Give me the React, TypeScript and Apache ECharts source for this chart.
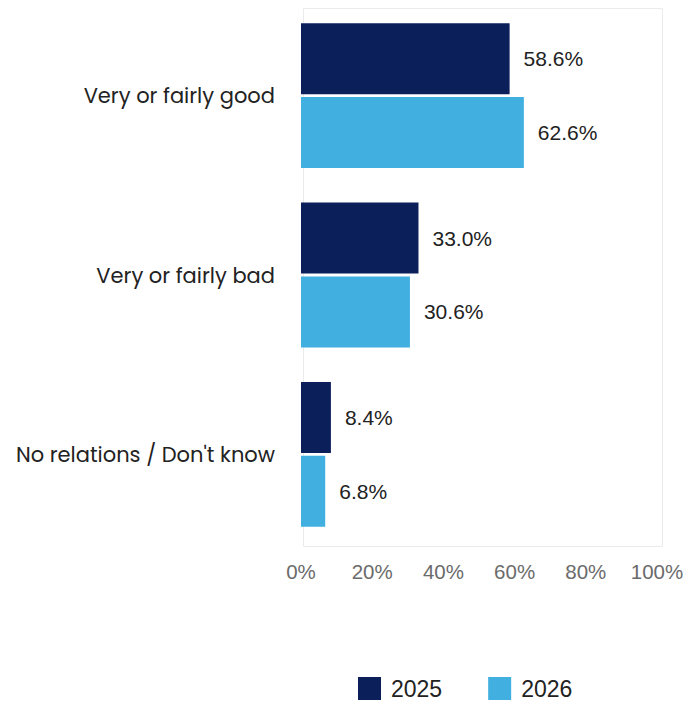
import React, { useEffect, useRef } from "react";
import * as echarts from "echarts";

const categories = ["Very or fairly good", "Very or fairly bad", "No relations / Don't know"];
const values2025 = [58.6, 33.0, 8.4];
const values2026 = [62.6, 30.6, 6.8];
const seriesNames = ["2025", "2026"];
const tickValues = [0, 20, 40, 60, 80, 100];

export default function App() {
  const ref = useRef<HTMLDivElement>(null);
  useEffect(() => {
    document.body.style.margin = "0";
    document.body.style.overflow = "hidden";
    const chart = echarts.init(ref.current!, undefined, { renderer: "svg" });
    const label = {
      show: true,
      position: "right",
      distance: 14,
      formatter: (p: any) => p.value.toFixed(1) + "%",
      color: "#222",
      fontSize: 21,
      fontFamily: "Liberation Sans, Arial, sans-serif",
    };
    chart.setOption({
      animation: false,
      backgroundColor: "#fff",
      graphic: [
        {
          type: "rect",
          left: 301,
          top: 6,
          shape: { width: 359, height: 538 },
          style: { fill: "none", stroke: "#ebebeb", lineWidth: 1 },
          silent: true,
        },
      ],
      grid: {
        left: 301,
        top: 6,
        width: 356,
        height: 538,
        show: false,
        containLabel: false,
      },
      legend: {
        data: seriesNames,
        top: 672,
        left: 353,
        itemWidth: 23,
        itemHeight: 23,
        itemGap: 46,
        icon: "rect",
        textStyle: {
          color: "#222",
          fontSize: 23,
          padding: [2, 0, 0, 5],
          fontFamily: "Liberation Sans, Arial, sans-serif",
        },
      },
      xAxis: {
        type: "value",
        min: tickValues[0],
        max: tickValues[tickValues.length - 1],
        interval: 20,
        axisLine: { show: false },
        axisTick: { show: false },
        splitLine: { show: false },
        axisLabel: {
          formatter: "{value}%",
          color: "#6b6b6b",
          fontSize: 20.5,
          margin: 17,
          fontFamily: "Liberation Sans, Arial, sans-serif",
        },
      },
      yAxis: {
        type: "category",
        data: categories,
        inverse: true,
        axisLine: { show: false },
        axisTick: { show: false },
        axisLabel: {
          color: "#222",
          fontSize: 21,
          margin: 26,
          fontFamily: "Poppins, Noto Sans, sans-serif",
        },
      },
      series: [
        {
          name: seriesNames[0],
          type: "bar",
          data: values2025,
          barWidth: 71,
          barGap: "4%",
          itemStyle: { color: "#0b1f5b" },
          label,
        },
        {
          name: seriesNames[1],
          type: "bar",
          data: values2026,
          barWidth: 71,
          barGap: "4%",
          itemStyle: { color: "#41b0e1" },
          label,
        },
      ],
    });
    return () => chart.dispose();
  }, []);
  return (
    <div
      ref={ref}
      style={{ position: "fixed", left: 0, top: 0, width: 690, height: 702 }}
    />
  );
}
